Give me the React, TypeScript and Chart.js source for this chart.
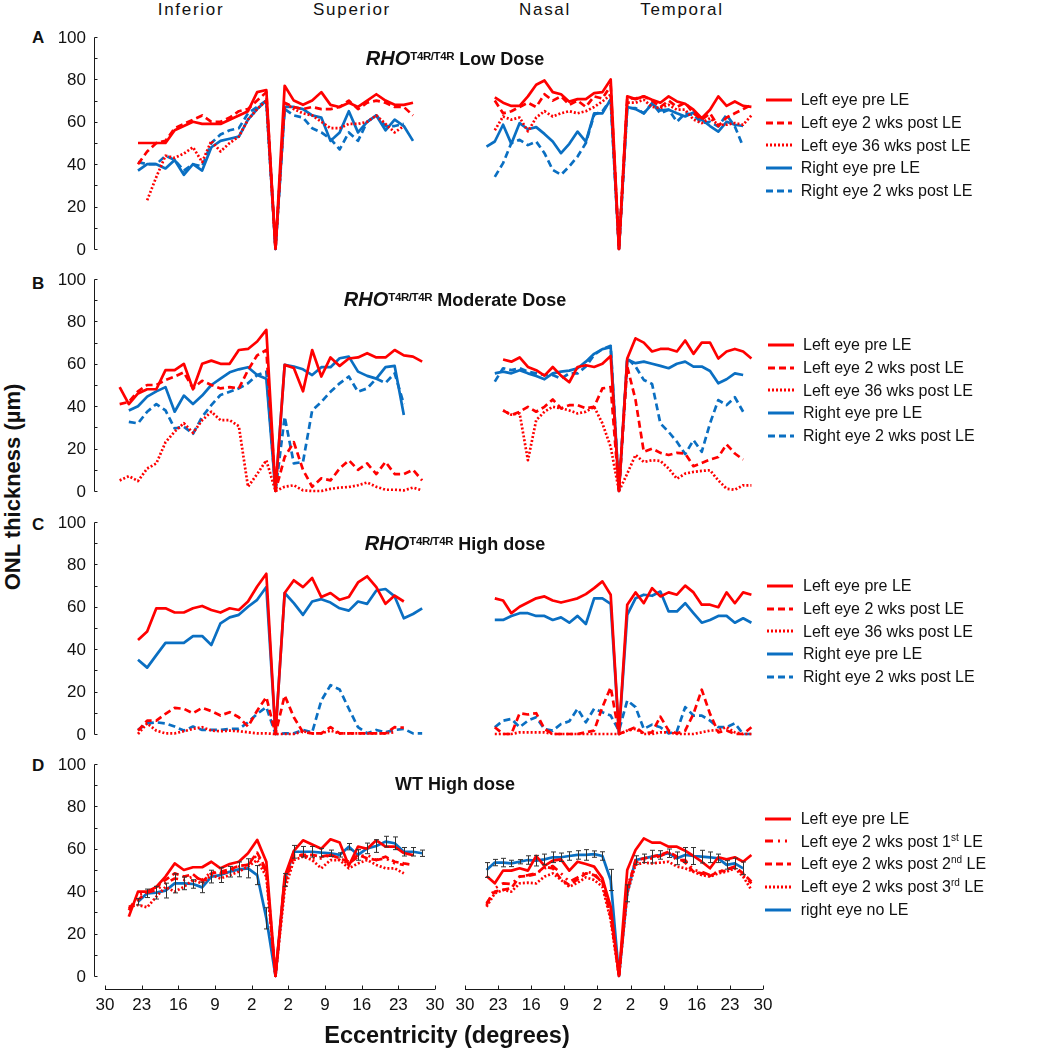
import React, { useEffect, useRef } from "react";
import { Chart, registerables } from "chart.js";

Chart.register(...registerables);

const n = null;
const FONT = "'Liberation Sans', Arial, Helvetica, sans-serif";
const RED = "#ff0000";
const BLUE = "#0a6fc2";
const AXIS = "#1a1a1a";

// eccentricity sample index (fovea = 15)
const K = [-2, -1, 0, 1, 2, 3, 4, 5, 6, 7, 8, 9, 10, 11, 12, 13, 14, 15, 16, 17, 18, 19, 20, 21, 22, 23, 24, 25, 26, 27, 28, 29, 30, 31];
const X_MIN = -3.6;
const X_MAX = 32.4;
const X_TICK_POS = [-3.6, 0.4, 4.4, 8.4, 12.4, 16.4, 20.4, 24.4, 28.4, 32.4];
const X_TICK_LABELS = ["30", "23", "16", "9", "2", "2", "9", "16", "23", "30"];
const Y_TICKS = [0, 20, 40, 60, 80, 100];
const Y_MINOR_TICKS = [0, 10, 20, 30, 40, 50, 60, 70, 80, 90, 100];

// ---------- Panel A : RHO T4R/T4R Low Dose ----------
const A_IS_LPRE = [n, n, 50, 50, 50, 50, 56, 58, 60, 59, 59, 59, 61, 63, 65, 74, 75, 0, 77, 70, 68, 70, 74, 68, 67, 69, 67, 70, 73, 70, 68, 68, 69, n];
const A_IS_L2W = [n, n, 40, 46, 50, 51, 57, 59, 61, 63, 60, 60, 62, 65, 66, 70, 74, 0, 69, 67, 66, 67, 66, 66, 67, 70, 66, 69, 70, 69, 67, 67, 63, n];
const A_IS_L36W = [n, n, n, 23, 34, 44, 43, 45, 48, 41, 51, 46, 50, 53, 61, 66, 70, 0, 69, 66, 64, 63, 60, 57, 57, 59, 59, 60, 63, 59, 55, 58, n, n];
const A_IS_RPRE = [n, n, 37, 40, 40, 38, 42, 35, 40, 37, 48, 51, 52, 53, 61, 66, 70, 0, 67, 67, 66, 63, 62, 51, 55, 65, 55, 60, 63, 56, 61, 58, 51, n];
const A_IS_R2W = [n, n, 41, 40, 40, 44, 42, 37, 40, 39, 50, 54, 56, 57, 64, 67, 70, 0, 66, 63, 62, 57, 55, 52, 47, 55, 51, 60, 63, 58, 58, 59, n, n];

const A_NT_LPRE = [n, n, 71.5, 69, 67.5, 67.5, 72, 77.5, 79.5, 74, 73, 69.5, 70.7, 70.7, 73.5, 74, 80, 0, 72, 70.7, 72, 70.4, 69, 72, 69.6, 68.5, 65.7, 61.7, 65.7, 72, 67.5, 69.6, 67.5, 67];
const A_NT_L2W = [n, n, 70, 64, 65, 67, 69, 67, 73, 70, 72, 68, 70, 67, 72, 71, 77, 0, 71, 71, 72, 70, 67, 70, 67, 69, 64, 61, 64, 58, 62, 64, 66, 68];
const A_NT_L36W = [n, n, 56, 62.5, 61, 62, 55.5, 62, 65, 62.5, 64, 65, 64, 65, 67, 69.6, 72.8, 0, 69, 69, 70.4, 67, 66.5, 68, 65.7, 65.7, 61, 59.4, 61.7, 58.6, 58.6, 59.4, 58.6, 63];
const A_NT_RPRE = [n, 48.3, 50.7, 58.6, 49.6, 59.4, 56.5, 57.5, 54.3, 50.7, 45.2, 49.6, 55.4, 50.7, 64, 64, 70.7, 0, 67, 66, 64, 68.5, 65.4, 65.7, 64, 62.5, 64.4, 61, 58, 55.4, 60, 58.6, 58, n];
const A_NT_R2W = [n, n, 34, 40.5, 50, 51.5, 49, 50.7, 45.2, 37.3, 35, 39, 43.6, 50, 63.3, 65, 70.4, 0, 66.5, 66.5, 64, 68.8, 64, 65.7, 60, 64, 63.3, 59.4, 60, 57.8, 63.3, 57.8, 48.3, n];

// ---------- Panel B : RHO T4R/T4R Moderate Dose ----------
const B_IS_LPRE = [49, 41, 46, 48, 48, 57, 57, 60, 48, 60, 61.5, 60, 60, 66.5, 67, 70.5, 76, 0, 59.5, 58, 47, 66.5, 54, 63, 59, 62.5, 63, 65, 63, 63, 66.5, 64, 63.4, 61];
const B_IS_L2W = [41, 42, 47, 50, 50, 52.4, 54, 56, 48.4, 52, 50, 48.4, 49, 48.4, 57, 64, 66.5, 0, 16, 23, 10, 2, 6, 5, 10.6, 14.5, 10, 13, 8, 13.7, 8, 8, 10, 5];
const B_IS_L36W = [5, 7, 4.7, 10.6, 13, 23, 28, 32, 27.4, 33.4, 37.4, 33.4, 33.4, 30.6, 2, 8, 14.5, 0, 2, 2.7, 0.3, 0, 0, 1, 1.6, 1.9, 2.7, 4, 2, 0.6, 0.6, 0.3, 1.6, 0.3];
const B_IS_RPRE = [n, 38, 40, 44.5, 47, 49, 37.4, 45, 41, 45, 50, 53, 56, 57.4, 58.4, 54.7, 53, 0, 59.5, 58.7, 57.4, 54.7, 58.4, 58.4, 62.6, 63.4, 56.3, 54.3, 53, 58.4, 59, 35.8, n, n];
const B_IS_R2W = [n, 32.6, 31.9, 37.4, 41, 38, 29.5, 30.3, 27, 35, 40.5, 45.3, 46.8, 48.4, 50.8, 54.7, 56.3, 0, 35, 13, 13.7, 38, 42, 46.8, 50.8, 54, 46.8, 48.4, 53, 51, 55.5, 41, n, n];

const B_NT_LPRE = [n, n, n, 62, 61, 63, 58.5, 57, 54.4, 58.5, 54.4, 51.3, 58.5, 59.3, 58.5, 60, 63.7, 0, 62.5, 72, 70, 65.8, 67, 67, 65.8, 71, 64.7, 70, 70, 62.5, 65.8, 67, 65.8, 62.5];
const B_NT_L2W = [n, n, n, 38, 35.8, 37.4, 39.7, 37.4, 39.7, 43.2, 39, 40.5, 40.5, 39, 39.7, 48.4, 49, 0, 58.7, 43, 18.5, 20, 18, 17, 18, 17.7, 11.7, 13.2, 14.8, 16, 22, 17.7, 14.8, n];
const B_NT_L36W = [n, n, n, 38, 36, 36.6, 14.5, 33.4, 37.4, 39.7, 39, 38, 36.6, 37.4, 39.7, 31.9, 20.8, 0, 8.2, 17, 13.7, 14.5, 14.2, 10.6, 5.8, 8.2, 9, 9.5, 9.8, 5, 1.1, 0.6, 2.7, 2.7];
const B_NT_RPRE = [n, n, 55.5, 56.3, 55.5, 57, 55.5, 54.3, 52.7, 55.5, 56.3, 56.8, 57.9, 61, 64.7, 66.9, 67.8, 0, 62, 60.3, 61, 60, 59, 57.9, 60, 61, 58.7, 58.7, 56.6, 50.8, 52.7, 55.5, 54.7, n];
const B_NT_R2W = [n, n, 51.6, 57.9, 57, 57.9, 56.3, 55.5, 54.7, 54.7, 53, 55.5, 55.5, 58.7, 64.2, 66.9, 68.5, 0, 62.6, 58.7, 52.4, 50.5, 31.9, 27.9, 23.2, 17.4, 24, 18.5, 31.9, 42.9, 40.5, 44.2, 37.4, n];

// ---------- Panel C : RHO T4R/T4R High dose ----------
const C_IS_LPRE = [n, n, 44.3, 48.3, 59.3, 59.3, 57.3, 57.3, 59.3, 60.4, 58.5, 57.3, 59.3, 58.5, 62.5, 69.6, 75.6, 0, 66.5, 72.5, 69.3, 73.6, 64.6, 66.5, 63.3, 64.6, 71.5, 74.4, 69.3, 61.4, 65.3, 62.5, n, n];
const C_IS_L2W = [n, n, 1.6, 6.3, 6.3, 9.5, 12.3, 11.9, 9.8, 12.3, 10.8, 8.7, 10.3, 7.9, 3.5, 11, 17.4, 0, 18.2, 7.9, 0.8, 0.3, 0.3, 3.2, 0.3, 0.3, 0.3, 0.3, 0.3, 0.3, 3.2, 3, n, n];
const C_IS_L36W = [n, n, 0, 5, 1.6, 0.3, 0.3, 1.3, 2.4, 3.2, 1.6, 1.3, 1.6, 1.3, 0.8, 0.3, 0.3, 0, 0, 0, 1.3, 0.3, 0.3, 1.6, 0.3, 0.3, 0.3, 0.3, 0.3, 0.3, 0.8, n, n, n];
const C_IS_RPRE = [n, n, 35, 31.3, 37.2, 43, 43, 43, 46.2, 46.2, 42, 52.2, 55, 56.2, 60, 63.3, 69.3, 0, 66.5, 61.7, 56.2, 62.5, 63.6, 62, 59.3, 58.2, 62.5, 61.4, 67.7, 68.4, 64.9, 54.6, 56.6, 59.3];
const C_IS_R2W = [n, n, 1.9, 5, 5.5, 5, 3.5, 1.6, 3.5, 1.9, 1.9, 1.9, 2.4, 2.4, 5.5, 9.5, 12.7, 0, 0.3, 0.3, 1.9, 0.8, 15.8, 23, 21, 11.9, 3.2, 0.3, 1.9, 0.8, 1.9, 2.4, 0.3, 0.3];

const C_NT_LPRE = [n, n, 64, 63, 57, 60, 62, 64, 64.9, 63, 62, 63, 64, 66, 68.8, 72, 65.7, 0, 61, 66.8, 61.7, 68.8, 64.9, 66.8, 65.7, 70, 66.8, 61, 61, 59.8, 66.8, 61.7, 66.8, 65.7];
const C_NT_L2W = [n, n, 3.2, 0, 0, 9.8, 9.2, 9.8, 2.4, 0, 0, 0, 0, 0.8, 1.6, 12.7, 22, 0, 1.6, 3.2, 0.3, 0.8, 8.2, 1.6, 0.3, 1.6, 9.5, 20.9, 9.5, 0.8, 1.6, 0, 0, 3.2];
const C_NT_L36W = [n, n, 0, 0, 0, 0.8, 0.8, 0.8, 0.8, 0, 0, 0, 0, 0, 0, 0, 0, 0, 1.6, 2.4, 0, 0, 0.8, 0.8, 0, 0, 0, 0.8, 1.6, 1.9, 3.2, 0.8, 0, 0];
const C_NT_RPRE = [n, n, 53.8, 53.8, 55.7, 57, 57, 55.7, 55.7, 53.8, 55, 52.5, 55.7, 51.9, 64, 64, 61.4, 0, 56.2, 64, 65.7, 65.2, 67.2, 57.8, 57.8, 61.7, 57, 52.5, 53.8, 55.7, 55.7, 52.5, 54.6, 52.5];
const C_NT_R2W = [n, n, 3.2, 6.3, 7.1, 3.2, 6.3, 7.9, 2.4, 1.6, 4.7, 6, 11.9, 5.5, 11.9, 10.3, 8.7, 1.6, 15.8, 12.7, 2.4, 4.4, 3.2, 0.3, 1.3, 12.7, 8.7, 8.7, 6.3, 3.2, 3.2, 5, 0, 0];

// ---------- Panel D : WT High dose ----------
const D_IS_LPRE = [n, 28, 39.8, 39.8, 42, 46.9, 53.1, 50, 51.3, 51.3, 53.9, 50.8, 52.8, 53.9, 57.9, 64.2, 53.9, 0, 47, 59, 64, 62, 60, 64.5, 63, 52, 61, 60, 64, 61, 61, 58, 57, n];
const D_IS_L1 = [n, 31, 38.2, 39.3, 40.6, 43.7, 46, 45.3, 46.9, 45.3, 49.2, 48.4, 49.2, 51.6, 52.4, 57.1, 49.2, 0, 45.3, 57.1, 57.1, 55.5, 55.5, 57.1, 54.7, 53.1, 56.3, 57.1, 54.7, 55.5, 53.1, 52.4, n, n];
const D_IS_L2 = [n, 32, 35.8, 39.8, 42, 45.3, 48.4, 46.9, 48, 44.5, 48.4, 49.2, 50.3, 51.9, 52.4, 58.2, 50, 0, 43.7, 56.3, 57.1, 57.1, 56.3, 57.1, 55.5, 53.9, 57.1, 55.5, 54.7, 56.3, 53.9, 53.1, 52.4, n];
const D_IS_L3 = [n, 32.7, 33.5, 32.4, 37.4, 42, 39.8, 42, 45.3, 43.7, 47.6, 46, 47.6, 49.2, 51.6, 54.7, 46.9, 0, 40.6, 54.7, 56.3, 54.7, 50.8, 54.7, 54.7, 50.8, 53.1, 54.7, 52.4, 50.8, 50.8, 48.4, n, n];
const D_IS_RNO = [n, n, 35, 39, 39.3, 40.3, 43.7, 43.7, 43.4, 41.8, 46.9, 47.6, 49.2, 50.3, 50.8, 47.6, 27.2, 0, 45.3, 58.6, 58.6, 58.6, 58.2, 57.9, 57.1, 61, 57.1, 60.2, 61.3, 63.4, 62.6, 58.6, 58.6, 57.9];
const D_IS_RNO_ERR = [n, n, 1.5, 2, 3, 3.5, 4.5, 3, 2, 2.5, 3, 3.5, 2.5, 3.5, 4.5, 4.5, 5, 0, 3, 3, 2.5, 2.5, 2, 1.5, 1, 1.5, 2.5, 2.5, 3, 2.5, 3, 2, 2, 1.5];

const D_NT_LPRE = [n, 47.2, 43.7, 49.7, 49.7, 50.8, 49.7, 56.6, 51.9, 54.4, 55, 49.7, 53.9, 52.8, 51.6, 46.1, 32.7, 0, 50, 59.4, 64.9, 62.9, 62.9, 61, 61, 59.1, 56.6, 53.9, 50.8, 56, 55, 56, 53.9, 57.1];
const D_NT_L1 = [n, 33.5, 41.4, 43.7, 43.4, 46.9, 47.6, 48.4, 50.8, 51.9, 48.4, 44.5, 46.5, 49.2, 48.4, 43.7, 29.6, 0, 42, 53.5, 54.7, 55.5, 56.6, 58.2, 54.7, 54.7, 50, 49.2, 47.6, 49.2, 50.3, 51.6, 47.6, 43.7];
const D_NT_L2 = [n, 34.3, 39.8, 40.6, 41.4, 46.9, 47.2, 48.1, 51.6, 50.8, 45.6, 42.9, 45.6, 48.4, 47.6, 44.5, 28, 0, 40.6, 54.4, 55.5, 56.3, 57.1, 58.6, 56.3, 53.5, 49.2, 48.4, 47.2, 49.2, 49.7, 51.6, 48.4, 44.5];
const D_NT_L3 = [n, 32.7, 39, 40.6, 39.8, 43.7, 44, 43.7, 46.9, 48.4, 45.3, 42.1, 44, 46.5, 45.3, 42.1, 26.4, 0, 39, 52.4, 53.5, 53.1, 53.5, 53.9, 51.6, 50.8, 49.2, 47.6, 46.9, 48.4, 49.2, 50.8, 46.9, 40.6];
const D_NT_RNO = [n, 50, 53.5, 53.5, 53.1, 53.9, 54.7, 54.4, 55, 56, 56, 56.6, 57.1, 57.1, 57.5, 56.6, 45.3, 0, 39, 54.7, 55.5, 56.3, 57.1, 57.9, 55.5, 57.1, 56.6, 56.3, 56, 55.5, 52.4, 53.1, 50.8, n];
const D_NT_RNO_ERR = [n, 3.5, 1.5, 2, 1.5, 1, 2, 2.5, 2.5, 2.5, 2, 2, 2, 2.5, 1.5, 2, 5, 0, 4, 2, 2, 3, 2, 2, 3, 3.5, 4, 3, 2.5, 2, 2, 2.5, 3, n];

// ---------- labels ----------
const TOP_LABELS = ["Inferior", "Superior", "Nasal", "Temporal"];
const LEGEND_ABC = ["Left eye pre LE", "Left eye 2 wks post LE", "Left eye 36 wks post LE", "Right eye pre LE", "Right eye 2 wks post LE"];
const PANEL_LETTERS = ["A", "B", "C", "D"];
const PANEL_DOSES = ["Low Dose", "Moderate Dose", "High dose", "WT High dose"];

const SOLID: number[] = [];
const DASHED = [7, 4];
const DOTTED = [2, 2];
const DASHDOT = [8, 5, 2, 5, 2, 5];

type Style = { color: string; dash: number[] };
const STYLES_ABC: Style[] = [
  { color: RED, dash: SOLID },
  { color: RED, dash: DASHED },
  { color: RED, dash: DOTTED },
  { color: BLUE, dash: SOLID },
  { color: BLUE, dash: DASHED },
];
const STYLES_D: Style[] = [
  { color: RED, dash: SOLID },
  { color: RED, dash: DASHDOT },
  { color: RED, dash: DASHED },
  { color: RED, dash: DOTTED },
  { color: BLUE, dash: SOLID },
];

type ChartProps = {
  left: number;
  top: number;
  width: number;
  height: number;
  pad: { top: number; bottom: number; left: number; right: number };
  series: (number | null)[][];
  styles: Style[];
  err?: (number | null)[] | null;
  errSeries?: number;
  showY: boolean;
  showX: boolean;
};

function LineChart(props: ChartProps) {
  const ref = useRef<HTMLCanvasElement | null>(null);
  useEffect(() => {
    const canvas = ref.current;
    if (!canvas) return;
    const { series, styles, err, errSeries, showY, showX, pad } = props;
    const refAxes = {
      id: "refAxes",
      afterDatasetsDraw(chart: any) {
        const { ctx, chartArea, scales } = chart;
        const xs = scales.x;
        const ys = scales.y;
        ctx.save();
        ctx.setLineDash([]);
        if (err && errSeries != null) {
          const vals = series[errSeries];
          ctx.strokeStyle = "#333";
          ctx.lineWidth = 1;
          ctx.beginPath();
          vals.forEach((v, i) => {
            const e = err[i];
            if (v == null || e == null || e <= 0) return;
            const px = Math.round(xs.getPixelForValue(K[i])) + 0.5;
            const y1 = ys.getPixelForValue(v + e);
            const y2 = ys.getPixelForValue(v - e);
            ctx.moveTo(px, y1);
            ctx.lineTo(px, y2);
            ctx.moveTo(px - 2.5, y1);
            ctx.lineTo(px + 2.5, y1);
            ctx.moveTo(px - 2.5, y2);
            ctx.lineTo(px + 2.5, y2);
          });
          ctx.stroke();
        }
        ctx.strokeStyle = AXIS;
        ctx.fillStyle = "#111";
        ctx.lineWidth = 1;
        ctx.font = `17px ${FONT}`;
        if (showY) {
          const ax = Math.round(chartArea.left - 11) + 0.5;
          ctx.beginPath();
          ctx.moveTo(ax, Math.round(ys.getPixelForValue(100)) + 0.5);
          ctx.lineTo(ax, Math.round(ys.getPixelForValue(0)) + 0.5);
          Y_MINOR_TICKS.forEach((v) => {
            const py = Math.round(ys.getPixelForValue(v)) + 0.5;
            ctx.moveTo(ax, py);
            ctx.lineTo(ax + 3, py);
          });
          ctx.stroke();
          ctx.textAlign = "right";
          ctx.textBaseline = "middle";
          Y_TICKS.forEach((v) => {
            ctx.fillText(String(v), chartArea.left - 19, ys.getPixelForValue(v) + 1);
          });
        }
        if (showX) {
          const ay = Math.round(chartArea.bottom + 13) + 0.5;
          ctx.beginPath();
          ctx.moveTo(xs.getPixelForValue(X_MIN), ay);
          ctx.lineTo(xs.getPixelForValue(X_MAX), ay);
          X_TICK_POS.forEach((v) => {
            const px = Math.round(xs.getPixelForValue(v)) + 0.5;
            ctx.moveTo(px, ay);
            ctx.lineTo(px, ay - 4);
          });
          ctx.stroke();
          ctx.textAlign = "center";
          ctx.textBaseline = "middle";
          X_TICK_POS.forEach((v, i) => {
            ctx.fillText(X_TICK_LABELS[i], xs.getPixelForValue(v), chartArea.bottom + 29);
          });
        }
        ctx.restore();
      },
    };
    const chart = new Chart(canvas, {
      type: "line",
      data: {
        datasets: series.map((vals, si) => ({
          data: K.map((k, i) => ({ x: k, y: vals[i] })),
          borderColor: styles[si].color,
          backgroundColor: styles[si].color,
          borderDash: styles[si].dash,
          borderWidth: 2.7,
          borderCapStyle: "butt",
          borderJoinStyle: "round",
          pointRadius: 0,
          pointHoverRadius: 0,
          pointBorderWidth: 0,
          tension: 0,
          fill: false,
          spanGaps: false,
          clip: false,
        })),
      },
      options: {
        animation: false,
        responsive: false,
        devicePixelRatio: 1,
        events: [],
        layout: { autoPadding: false, padding: pad },
        plugins: {
          legend: { display: false },
          tooltip: { enabled: false },
          title: { display: false },
          subtitle: { display: false },
        },
        scales: {
          x: { type: "linear", min: X_MIN, max: X_MAX, display: false },
          y: { type: "linear", min: 0, max: 100, display: false },
        },
      },
      plugins: [refAxes],
    } as any);
    return () => chart.destroy();
  }, []);
  return (
    <canvas
      ref={ref}
      width={props.width}
      height={props.height}
      style={{ position: "absolute", left: props.left, top: props.top, width: props.width, height: props.height }}
    />
  );
}

function Txt(props: {
  x: number;
  base: number;
  size: number;
  bold?: boolean;
  italic?: boolean;
  center?: boolean;
  spacing?: number;
  children: React.ReactNode;
}) {
  const { x, base, size, bold, italic, center, spacing, children } = props;
  const style: React.CSSProperties = {
    position: "absolute",
    top: base - 0.8465 * size,
    fontSize: size,
    lineHeight: `${size}px`,
    fontWeight: bold ? 700 : 400,
    fontStyle: italic ? "italic" : "normal",
    whiteSpace: "nowrap",
    letterSpacing: spacing ?? 0,
    color: "#111",
  };
  if (center) {
    style.left = x - 300;
    style.width = 600;
    style.textAlign = "center";
  } else {
    style.left = x;
  }
  return <div style={style}>{children}</div>;
}

function Sup(props: { children: React.ReactNode; size: number; raise: number }) {
  return (
    <span style={{ fontSize: props.size, position: "relative", top: -props.raise, lineHeight: 0 }}>{props.children}</span>
  );
}

function Legend(props: { lineX: number; textX: number; y0: number; styles: Style[]; labels: React.ReactNode[] }) {
  const step = 22.7;
  return (
    <>
      {props.labels.map((lab, i) => {
        const cy = props.y0 + i * step;
        const st = props.styles[i];
        return (
          <React.Fragment key={i}>
            <svg style={{ position: "absolute", left: props.lineX, top: cy - 4 }} width={26} height={8}>
              <line
                x1={0}
                y1={4}
                x2={26}
                y2={4}
                stroke={st.color}
                strokeWidth={3}
                strokeDasharray={st.dash.length ? st.dash.join(" ") : undefined}
              />
            </svg>
            <Txt x={props.textX} base={cy + 5.7} size={16}>
              {lab}
            </Txt>
          </React.Fragment>
        );
      })}
    </>
  );
}

const LEGEND_D: React.ReactNode[] = [
  "Left eye pre LE",
  <>Left eye 2 wks post 1<Sup size={10} raise={6}>st</Sup> LE</>,
  <>Left eye 2 wks post 2<Sup size={10} raise={6}>nd</Sup> LE</>,
  <>Left eye 2 wks post 3<Sup size={10} raise={6}>rd</Sup> LE</>,
  "right eye no LE",
];

const ROWS = [
  { areaTop: 37, letterBase: 43, titleBase: 64, lineX: 766, textX: 800.7, legendY: 100, left: [A_IS_LPRE, A_IS_L2W, A_IS_L36W, A_IS_RPRE, A_IS_R2W], right: [A_NT_LPRE, A_NT_L2W, A_NT_L36W, A_NT_RPRE, A_NT_R2W] },
  { areaTop: 279, letterBase: 289, titleBase: 305, lineX: 768, textX: 803, legendY: 345, left: [B_IS_LPRE, B_IS_L2W, B_IS_L36W, B_IS_RPRE, B_IS_R2W], right: [B_NT_LPRE, B_NT_L2W, B_NT_L36W, B_NT_RPRE, B_NT_R2W] },
  { areaTop: 522, letterBase: 530, titleBase: 549, lineX: 767, textX: 803, legendY: 586, left: [C_IS_LPRE, C_IS_L2W, C_IS_L36W, C_IS_RPRE, C_IS_R2W], right: [C_NT_LPRE, C_NT_L2W, C_NT_L36W, C_NT_RPRE, C_NT_R2W] },
  { areaTop: 764, letterBase: 771, titleBase: 790.5, lineX: 765, textX: 800.7, legendY: 818.7, left: [D_IS_LPRE, D_IS_L1, D_IS_L2, D_IS_L3, D_IS_RNO], right: [D_NT_LPRE, D_NT_L1, D_NT_L2, D_NT_L3, D_NT_RNO] },
];

const AREA_H = 212;
const LEFT_AREA_X = 105;
const LEFT_AREA_W = 330;
const RIGHT_AREA_X = 465;
const RIGHT_AREA_W = 298;

export default function App() {
  return (
    <div
      style={{
        position: "absolute",
        left: 0,
        top: 0,
        width: 1039,
        height: 1050,
        overflow: "hidden",
        background: "#fff",
        fontFamily: FONT,
        color: "#111",
      }}
    >
      <Txt x={191} base={15} size={17} center spacing={1.7}>{TOP_LABELS[0]}</Txt>
      <Txt x={352} base={15} size={17} center spacing={1.7}>{TOP_LABELS[1]}</Txt>
      <Txt x={545} base={15} size={17} center spacing={1.7}>{TOP_LABELS[2]}</Txt>
      <Txt x={682} base={15} size={17} center spacing={1.7}>{TOP_LABELS[3]}</Txt>

      {ROWS.map((row, ri) => {
        const isD = ri === 3;
        const styles = isD ? STYLES_D : STYLES_ABC;
        const padBottom = isD ? 48 : 14;
        const h = 14 + AREA_H + padBottom;
        return (
          <React.Fragment key={ri}>
            <LineChart
              left={LEFT_AREA_X - 60}
              top={row.areaTop - 14}
              width={60 + LEFT_AREA_W + 14}
              height={h}
              pad={{ top: 14, bottom: padBottom, left: 60, right: 14 }}
              series={row.left}
              styles={styles}
              err={isD ? D_IS_RNO_ERR : null}
              errSeries={4}
              showY={true}
              showX={isD}
            />
            <LineChart
              left={RIGHT_AREA_X - 14}
              top={row.areaTop - 14}
              width={14 + RIGHT_AREA_W + 14}
              height={h}
              pad={{ top: 14, bottom: padBottom, left: 14, right: 14 }}
              series={row.right}
              styles={styles}
              err={isD ? D_NT_RNO_ERR : null}
              errSeries={4}
              showY={false}
              showX={isD}
            />
            <Txt x={32} base={row.letterBase} size={17} bold>{PANEL_LETTERS[ri]}</Txt>
            <Txt x={455} base={row.titleBase} size={18} bold center>
              {isD ? (
                PANEL_DOSES[ri]
              ) : (
                <>
                  <span style={{ fontStyle: "italic", fontSize: 20 }}>RHO</span>
                  <span style={{ fontSize: 11.5, position: "relative", top: -5, letterSpacing: -0.4 }}>T4R/T4R</span>{" "}
                  {PANEL_DOSES[ri]}
                </>
              )}
            </Txt>
            <Legend lineX={row.lineX} textX={row.textX} y0={row.legendY} styles={styles} labels={isD ? LEGEND_D : LEGEND_ABC} />
          </React.Fragment>
        );
      })}

      <div
        style={{
          position: "absolute",
          left: 12.5,
          top: 487,
          transform: "translate(-50%, -50%) rotate(-90deg)",
          fontSize: 22,
          fontWeight: 700,
          lineHeight: "22px",
          whiteSpace: "nowrap",
          color: "#111",
        }}
      >
        ONL thickness (µm)
      </div>
      <Txt x={447} base={1044} size={23.5} bold center>Eccentricity (degrees)</Txt>
    </div>
  );
}
